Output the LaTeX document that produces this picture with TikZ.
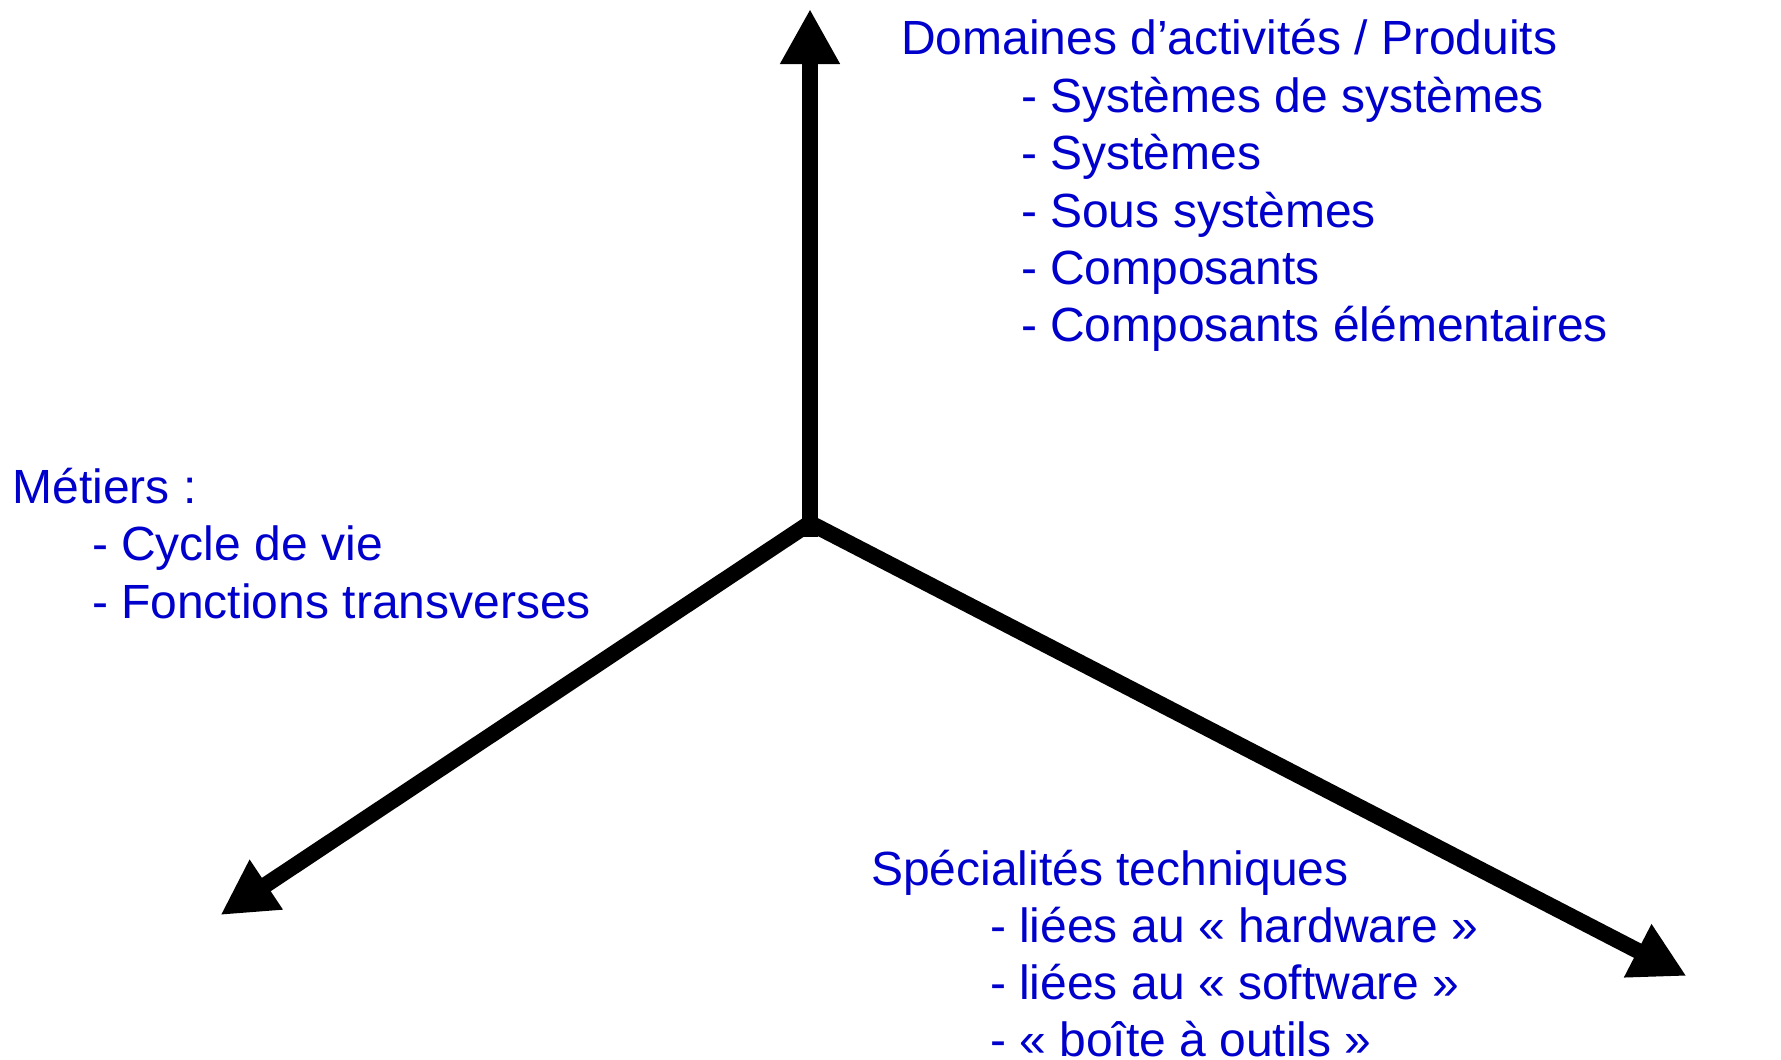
\documentclass[tikz,border=0pt]{standalone}
\usepackage{fontspec}
\setmainfont{Liberation Sans}
\usetikzlibrary{arrows.meta}
\definecolor{txtblue}{RGB}{0,0,204}
\tikzset{
  axis/.style={line width=16pt, black, -{Triangle[length=55pt,width=56pt]}},
  lbl/.style={anchor=base west, inner sep=0pt, outer sep=0pt, text=txtblue,
              font=\fontsize{48pt}{57pt}\selectfont}
}
\begin{document}
\begin{tikzpicture}[x=1pt,y=-1pt]
\useasboundingbox (0,0) rectangle (1781,1060);
% axes
\coordinate (stem) at (810,537);
\coordinate (O) at (810,523);
\coordinate (top) at (810,9);
\coordinate (left) at (220.5,915);
\coordinate (right) at (1686.5,976);
\draw[axis] (stem) -- (top);
\draw[axis] (O) -- (left);
\draw[axis] (O) -- (right);
% top block
\node[lbl] (t0) at (901,54.5) {Domaines d’activités / Produits};
\node[lbl] (t1) at (1021,112) {- Systèmes de systèmes};
\node[lbl] (t2) at (1021,169.5) {- Systèmes};
\node[lbl] (t3) at (1021,227) {- Sous systèmes};
\node[lbl] (t4) at (1021,284) {- Composants};
\node[lbl] (t5) at (1021,341.5) {- Composants élémentaires};
% left block
\node[lbl] (l0) at (12.5,503) {Métiers :};
\node[lbl] (l1) at (92,560.5) {- Cycle de vie};
\node[lbl] (l2) at (92,618) {- Fonctions transverses};
% bottom block
\node[lbl] (b0) at (871,885) {Spécialités techniques};
\node[lbl] (b1) at (990,942) {- liées au « hardware »};
\node[lbl] (b2) at (990,999.5) {- liées au « software »};
\node[lbl] (b3) at (990,1056) {- « boîte à outils »};
\end{tikzpicture}
\end{document}
